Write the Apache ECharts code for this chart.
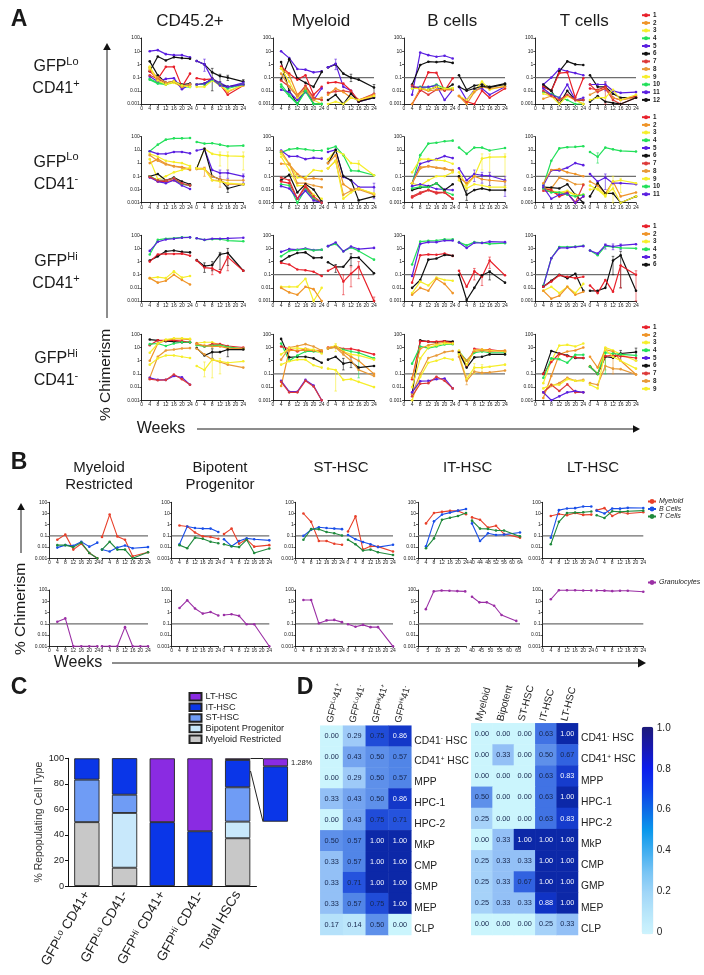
<!DOCTYPE html>
<html><head><meta charset="utf-8">
<style>html,body{margin:0;padding:0;background:#fff}#c{width:704px;height:975px}</style>
<script src="https://cdn.jsdelivr.net/npm/echarts@6/dist/echarts.min.js"></script>
</head><body><div id="c"></div>
<script>
// ---------- Panel A data: [mouse, value at each week] ----------
const priWeeks=[4,8,12,16,20,24];
const secWeeks=[0,4,8,12,16,24];
const loPosCd45Pri=[[5,10,12,6,5,5,3.5],[6,.3,4,2,3.5,3,2.7],[12,1.7,.15,.04,.05,.03,.035],[1,.3,.08,.65,.65,.02,.2],[2,.6,.05,.03,.05,.02,.03],[3,.7,.06,.03,.04,.02,.025],[4,.08,.04,.035,.05,.02,.02],[11,.12,.05,.08,.09,.013,.03],[10,.07,.035,.03,.05,.025,.02],[7,.15,.08,.04,.05,.02,.03],[8,.4,.1,.04,.05,.02,.03],[9,.5,.06,.03,.05,.025,.02]];
const loPosCd45Sec=[[6,1.8,1,.25,.13,.1,.05],[5,1.8,1,.08,.04,.02,.04],[1,.09,.07,.08,.03,.005,.025],[12,.03,.035,.08,.03,.02,.03],[2,.03,.03,.07,.03,.008,.03],[3,.02,.02,.06,.025,.01,.025],[4,.03,.03,.07,.03,.015,.03],[11,.03,.035,.08,.025,.02,.03]];
const loPosMyePri=[[5,10,3,.45,.4,.25,.3],[6,.07,2.5,.09,.04,.02,.27],[12,1.5,.01,.001,.015,.001,.001],[1,.7,.2,.07,.15,.005,.02],[2,.5,.15,.005,.02,.003,.002],[3,.5,.05,.003,.01,.002,.001],[4,.03,.005,.001,.01,.001,.001],[11,.012,.008,.002,.008,.002,.015],[10,.02,.004,.001,.009,.001,.001],[7,.06,.02,.004,.025,.003,.002],[8,.2,.02,.004,.015,.002,.003]];
const loPosMyeSec=[[6,.6,1,.2,.1,.07,.018],[5,.6,1.1,.02,.01,.0015,.003],[1,.04,.045,.035,.01,.0015,.004],[7,.007,.009,.01,.008,.002,.006],[2,.005,.015,.008,.003,.002,.005],[12,.002,.005,.001,.006,.0015,.003],[3,.001,.0015,.001,.003,.002,.004]];
const loPosBPri=[[5,.005,8,5,3.8,4.5,2.8],[6,.03,.9,1.6,1.5,1.7,1.3],[1,.001,.01,.25,.23,.01,.09],[12,.02,.015,.012,.02,.012,.03],[4,.015,.02,.018,.03,.015,.015],[11,.02,.018,.02,.025,.002,.012],[7,.025,.012,.005,.012,.012,.012],[2,.001,.015,.01,.012,.013,.012],[3,.015,.015,.012,.02,.015,.016]];
const loPosBSec=[[6,.15,.012,.025,.03,.02,.035],[5,.02,.002,.012,.015,.005,.02],[1,.004,.0015,.001,.01,.003,.015],[3,.004,.002,.01,.05,.012,.025],[2,.004,.001,.008,.02,.015,.02],[12,.02,.01,.015,.022,.018,.03]];
const loPosTPri=[[5,.03,.1,.45,.3,.22,.15],[6,.02,.01,.3,1.7,1,.9],[1,.02,.01,.22,.25,.003,.09],[12,.03,.01,.001,.01,.002,.002],[4,.008,.006,.003,.002,.001,.001],[2,.0025,.004,.002,.004,.002,.001],[3,.006,.004,.001,.004,.002,.001],[11,.015,.005,.003,.03,.002,.003],[7,.01,.004,.002,.005,.002,.002]];
const loPosTSec=[[6,.15,.02,.02,.006,.003,.003],[5,.03,.03,.03,.01,.007,.008],[1,.015,.012,.02,.003,.002,.004],[8,.005,.01,.015,.003,.002,.003],[7,.03,.008,.015,.002,.001,.003],[12,.0015,.004,.0015,.0012,.001,.003],[3,.002,.003,.003,.012,.002,.005]];

const loNegCd45Pri=[[4,8,25,60,75,75,80],[5,8,5,5,7,7,5.5],[3,5,3,1.5,1.2,1,.6],[2,1,2,.9,.6,.5,.35],[8,4,1.5,.8,.55,.45,.3],[9,2,.06,.1,.2,.3,.45],[6,.1,.15,.05,.08,.04,.025],[1,.1,.04,.04,.05,.025,.02],[10,.1,.05,.05,.07,.025,.02],[11,.08,.04,.03,.05,.02,.011],[7,.09,.05,.05,.07,.03,.02]];
const loNegCd45Sec=[[4,40,30,32,25,19,21],[5,9,12,.3,.18,.18,.1],[3,.4,12,5,4,3.5,3.2],[6,.4,12,.1,.06,.012,.025],[2,.4,.4,.05,.05,.025,.025],[8,.35,.35,.1,.06,.05,.05],[9,.4,.35,.05,.04,.03,.025]];
const loNegMyePri=[[4,6.5,11,13,11,9,9],[5,9,3.2,3.3,2,2.5,2.2],[3,5,.8,.08,.08,.3,.25],[2,.9,.8,.15,.06,.07,.06],[8,8,.9,.03,.03,.02,.015],[9,3,.3,.02,.02,.004,.002],[6,.05,.13,.006,.025,.01,.0012],[1,.04,.03,.002,.015,.002,.001],[10,.025,.02,.001,.01,.002,.001],[11,.018,.012,.002,.008,.0015,.001],[7,.08,.05,.002,.02,.003,.001]];
const loNegMyeSec=[[4,12,18,4,.27,.25,.12],[3,2,9,4.5,1,.9,.12],[5,7,10,.09,.05,.015,.015],[6,1,10,.1,.05,.0015,.003],[2,1,4,.025,.01,.012,.0045],[8,.4,1.5,.004,.008,.01,.004],[9,.4,1.5,.002,.006,.012,.005]];
const loNegBPri=[[4,.03,4,30,35,45,50],[5,.03,.9,1.4,2,3.4,2.4],[3,.2,2,2,1.7,1.5,.9],[2,.03,.4,.6,.45,.4,.25],[8,.03,.5,.55,.45,.35,.3],[9,.03,.02,.05,.1,.1,.2],[11,.018,.025,.018,.011,.01,.009],[6,.009,.014,.016,.03,.009,.025],[10,.012,.016,.015,.03,.007,.004],[1,.0025,.005,.009,.006,.006,.002],[7,.003,.006,.009,.005,.006,.002]];
const loNegBSec=[[4,15,5,15,15,9,14],[5,.4,.05,.15,.12,.11,.05],[3,.2,.02,.1,2.2,2.8,3],[2,.08,.03,.1,.06,.05,.04],[9,.05,.012,.025,.02,.015,.015],[6,.1,.004,.009,.012,.009,.009]];
const loNegTPri=[[4,.02,1.5,13,16,17,19],[5,.02,.28,.28,.45,1,.7],[2,.03,.3,.35,.2,.15,.1],[8,.015,.012,.08,.05,.025,.025],[6,.015,.014,.012,.025,.004,.001],[3,.015,.008,.006,.008,.004,.004],[9,.012,.007,.005,.007,.0035,.004],[1,.012,.009,.003,.005,.001,.003],[7,.008,.007,.004,.006,.001,.022],[10,.012,.006,.006,.004,.003,.004],[11,.015,.002,.004,.005,.001,.003]];
const loNegTSec=[[4,7,3,15,11,8.5,7.5],[5,.15,.04,.08,.03,.03,.025],[2,.04,.02,.005,.04,.003,.006],[3,.02,.01,.003,.04,.05,.03],[6,.003,.03,.005,.005,.001,.003],[9,.01,.012,.004,.012,.001,.003]];

const hiPosCd45Pri=[[4,3.5,45,55,60,70,70],[5,6.5,32,48,55,65,70],[6,1.2,2.5,6,7,5.5,5],[1,1,3.5,3.8,3.8,4,2.8],[3,.055,.065,.055,.18,.06,.08],[2,.055,.025,.035,.1,.04,.018]];
const hiPosCd45Sec=[[4,60,45,50,50,40,35],[5,60,45,55,55,58,65],[6,1.3,.45,.55,3.5,4.5,.2],[1,1.2,.35,.3,.15,2.2,.2]];
const hiPosMyePri=[[5,5.5,9,8,10,7.5,8],[4,2.5,6.5,7.5,9,7,8],[6,1,2.5,4.5,5,1.9,2],[1,.8,.6,.25,.22,.17,.08],[3,.012,.012,.012,.05,.001,.01],[2,.01,.0045,.003,.012,.008,.001]];
const hiPosMyeSec=[[4,15,22,6,12,6.5,1.4],[5,15,28,6,14,9,11],[6,.9,.4,.4,2,2,.13],[1,.2,.4,.03,.12,.4,.001]];
const hiPosBPri=[[4,.6,33,38,40,50,50],[5,.08,22,30,30,40,40],[1,.025,3,3.5,3.3,4,2.7],[6,.01,.04,1.4,1.7,3.2,2.8],[3,.004,.03,.015,.06,.04,.035],[2,.003,.01,.006,.05,.02,.004]];
const hiPosBSec=[[4,30,17,30,27,22,25],[5,28,11,27,26,33,30],[1,.2,.012,.18,.07,1.2,.09],[6,.1,.0012,.01,.09,.17,.025]];
const hiPosTPri=[[4,.015,1.8,13,13,14,16],[5,.013,1.8,11,11,13,15],[6,.012,.035,.1,.055,.12,.006],[1,.012,.03,.09,.07,.055,.07],[3,.006,.012,.004,.012,.004,.02],[2,.006,.0015,.0025,.012,.003,.005]];
const hiPosTSec=[[4,7,3,15,13,11,10],[5,7,4,18,14,17,21],[6,.006,.006,.01,1.2,3,.006],[1,.015,.004,.04,.005,.5,.1]];

const hiNegCd45Pri=[[6,40,35,30,28,25,25],[1,15,35,35,35,30,25],[4,18,20,13,20,25,25],[2,1,20,35,45,45,40],[3,4,20,40,50,50,45],[8,.05,2,6,7,8.5,9],[9,.5,1.5,2.5,2.5,2,1.6],[5,.05,.035,.035,.07,.055,.015],[7,.04,.033,.035,.09,.04,.015]];
const hiNegCd45Sec=[[3,22,25,25,15,10,8],[1,20,12,18,18,13,10],[4,15,12,14,15,11,8],[2,18,14,12,12,9,8],[6,9,2.5,4.5,4.5,7,7],[8,8,3,1.2,.8,.5,.3],[9,.4,.2,1.2,.9,.7,.9]];
const hiNegMyePri=[[6,45,1.8,2,2,1.5,.7],[4,20,1,2.5,5,5,4.5],[1,12,8,5,8,6,5],[8,1.2,10,13,18,12,6],[2,.012,6,6,6,6,6],[3,3,9,9,8,7,3.5],[9,.5,.9,1.2,1.2,.45,.3],[5,.03,.0045,.0045,.035,.013,.001],[7,.025,.004,.004,.03,.011,.001]];
const hiNegMyeSec=[[1,10,12,8,8,6,3],[4,8,11,7,5,4,1.5],[3,9,14,5,3,2.5,1.2],[2,9,11,4.5,2,1,.1],[6,1.2,2,.6,.8,.3,.4],[8,8,10,3,1,.2,.07],[9,.25,.2,.035,.04,.025,.01]];
const hiNegBPri=[[6,.003,35,28,25,30,28],[1,.04,30,28,28,30,22],[4,.6,12,9,12,17,18],[2,.05,8,15,20,25,20],[8,.003,.1,1.6,2.5,4.5,5.5],[3,.01,1.5,10,15,20,20],[9,.001,.06,.7,1,1.6,1.2],[5,.004,.028,.03,.04,.045,.008],[7,.002,.018,.02,.06,.03,.008]];
const hiNegBSec=[[4,5,1,4,5,4,4],[1,5,.4,8,7,7,5],[3,6,.5,6,7,6,5],[2,4,1,5,6,5,6],[6,4,.3,1.8,2,3,3],[9,3,.04,.3,.3,.35,.5],[8,2,.03,.15,.12,.13,.18]];
const hiNegTPri=[[3,.02,1,14,16,12,20],[2,.0015,.07,3,5,6,10],[6,.1,5.5,3.5,2.5,1.6,1.6],[1,.1,.8,3.5,2.2,1.8,1.6],[4,.05,1.5,1.3,.7,2.8,2.8],[8,.004,.012,.02,.05,.03,.035],[9,.008,.015,.015,.04,.03,.03],[7,.004,.015,.005,.016,.004,.004],[5,.004,.001,.002,.004,.005,.004]];
const hiNegTSec=[[3,.4,.1,10,6,3,1],[6,.35,.1,2,1.7,3.5,4.5],[2,2,.3,7,5,1,.09],[1,.35,.1,2.2,2.5,2.2,1.6],[4,.35,.1,4,3.5,3,2.5],[8,.02,.015,.4,.25,.23,.09],[9,.015,.008,7,2,1,.25]];

// error bars: [row, col, sub, mouse, week, low, high]
const errorBars=[[0,0,1,5,4,.3,2.5],[0,0,1,6,8,.08,.5],[0,0,1,6,12,.05,.18],[0,0,1,6,16,.06,.15],[0,0,1,6,24,.03,.07],[0,0,1,12,8,.01,.09],
[0,1,1,5,4,.4,2.5],[0,1,1,6,12,.05,.18],[0,1,1,6,24,.006,.03],[0,3,1,7,8,.001,.04],[0,3,1,5,8,.01,.05],
[1,0,1,3,12,.6,7],[1,0,1,3,16,.3,7],[1,0,1,3,24,.3,7],[1,0,1,2,4,.1,.5],[1,0,1,2,12,.015,.1],[1,0,1,5,12,.07,.3],[1,0,1,5,16,.07,.3],[1,0,1,5,24,.03,.15],[1,0,1,6,16,.006,.02],
[1,1,1,3,16,.3,1.5],[1,1,1,5,24,.002,.03],[1,2,1,3,12,.3,5],[1,2,1,3,16,.02,5],[1,2,1,3,24,.02,5],[1,2,1,5,8,.04,.3],[1,2,1,5,12,.03,.2],[1,2,1,5,16,.02,.2],[1,2,1,5,24,.003,.1],[1,2,1,6,4,.0015,.009],
[1,3,1,5,8,.01,.15],[1,3,1,3,12,.001,.1],[1,3,1,3,16,.006,.07],[1,3,1,4,4,1,6],
[2,0,1,6,4,.15,.8],[2,0,1,6,8,.2,1],[2,0,1,6,12,.25,5],[2,0,1,6,16,.5,10],[2,0,1,1,8,.1,.6],[2,0,1,1,16,.2,5],
[2,1,1,1,8,.003,.1],[2,1,1,1,12,.012,.4],[2,1,1,1,16,.05,1],[2,1,1,1,24,.001,.002],[2,1,1,6,4,.15,.6],[2,1,1,6,12,.5,4],
[2,2,1,1,8,.04,.3],[2,2,1,1,12,.015,.1],[2,2,1,1,16,.3,2.2],[2,2,1,6,16,.04,.2],
[2,3,1,6,12,.1,2.5],[2,3,1,6,16,.01,6],[2,3,1,1,16,.01,.5],[2,3,1,1,24,.001,.2],[2,3,1,5,8,9,22],[2,3,1,5,12,8,22],[2,3,1,5,16,8,22],
[3,0,1,9,4,.06,.8],[3,0,1,9,8,.05,1.5],[3,0,1,9,12,.1,1.5],[3,0,1,6,8,1.5,8],[3,0,1,6,16,2,12],
[3,1,1,9,4,.005,.2],[3,1,1,6,8,.2,1.5],[3,1,1,6,12,.3,2],[3,1,1,4,16,.05,4],[3,1,1,3,4,5,20],
[3,2,1,9,8,.1,.6],[3,2,1,9,12,.1,.5],[3,2,1,8,4,.015,.08],
[3,3,1,2,8,.2,10],[3,3,1,2,12,.1,6],[3,3,1,6,16,1,6],[3,3,1,6,24,1,9],[3,3,1,4,8,.1,5]];

// ---------- Panel B data ----------
const restrictedPri=[['Myeloid',.045,.13,.006,.02,.003,.001],['B Cells',.009,.015,.013,.03,.011,.025],['T Cells',.015,.015,.01,.025,.003,.001]];
const restrictedSec=[['Myeloid',.08,8,.09,.045,.0015,.0035],['B Cells',.006,.004,.009,.014,.008,.01],['T Cells',.006,.03,.006,.006,.001,.0035]];
const bipotentPri=[['Myeloid',.85,.7,.2,.09,.08,.055],['B Cells',.018,.7,.5,.45,.45,.22],['T Cells',.015,.008,.07,.055,.03,.022]];
const bipotentSec=[['Myeloid',.15,.45,.02,.05,.011,.015],['B Cells',.05,.012,.035,.06,.05,.04],['T Cells',.018,.012,.01,.045,.003,.0075]];
const stPri=[['Myeloid',10,1.8,.035,.035,.02,.016],['B Cells',.1,.35,.6,.5,.45,.4],['T Cells',.045,.4,.4,.22,.17,.11]];
const stSec=[['Myeloid',.25,5.5,.006,.012,.011,.004],['B Cells',.12,.05,.028,.018,.01,.016],['T Cells',.045,.018,.005,.006,.0035,.002]];
const itPri=[['Myeloid',1.3,11,14,17,17,8.5],['B Cells',.012,2,8,12,18,25],['T Cells',.008,.06,2.8,4.2,6,11]];
const itSec=[['Myeloid',4.5,2.8,.55,.8,.15,.07],['B Cells',1.3,.035,.17,.12,.13,.2],['T Cells',2.3,.45,.42,.3,.3,.09]];
const ltPri=[['Myeloid',6,9,7,11,7.5,8],['B Cells',.07,20,28,30,42,42],['T Cells',.018,1.8,11,12,13,15]];
const ltSec=[['Myeloid',20,30,6,13,10,13],['B Cells',18,10,28,27,32,31],['T Cells',7,4,16,14,16,18]];
const itSecWeeks=[40,44,48,52,56,64];
const restrictedSecWeeks=[0,4,8,12,16,20,24];
const granRestrictedPri=[.15,.3,.001,.001,.001,.001];
const granRestrictedSec=[.001,.001,.001,.05,.001,.001,.001];
const granBipotentPri=[2.5,12,2.3,.8,1.1,.55];
const granBipotentSec=[.6,.7,.5,.09,.09,.001];
const granStPri=[13,13,.11,.2,.22,.14];
const granStSec=[.09,.055,.08,.05,.05,.001];
const granItPri=[2,75,90,85,80,75];
const granItSec=[25,8,8,4,.6,.18];
const granLtPri=[15,95,95,95,90,90];
const granLtSec=[90,88,80,85,85,70];
const thresholdValue=0.1;

// ---------- Panel C data ----------
const cCategories=['GFPLo CD41+','GFPLo CD41-','GFPHi CD41+','GFPHi CD41-','Total HSCs'];
const cMyeloid=[50,14.3,0,0,37.4];
const cBipotent=[0,42.9,0,0,13];
const cST=[33.3,14.3,0,0,26.9];
const cIT=[16.7,28.6,50,42.9,21.4];
const cLT=[0,0,50,57.1,1.28];
const cInsetIT=[8.86];   // top slice of the Total HSCs bar, magnified
const cInsetLT=[1.28];
const cInsetMax=10.14;

// ---------- Panel D data ----------
const dRows=['CD41- HSC','CD41+ HSC','MPP','HPC-1','HPC-2','MkP','CMP','GMP','MEP','CLP'];
const dColsLeft=['GFPLo41+','GFPLo41-','GFPHi41+','GFPHi41-'];
const dColsRight=['Myeloid','Bipotent','ST-HSC','IT-HSC','LT-HSC'];
const dLeft=[[0,.29,.75,.86],[0,.43,.5,.57],[0,.29,.5,.57],[.33,.43,.5,.86],[0,.43,.75,.71],[.5,.57,1,1],[.33,.57,1,1],[.33,.71,1,1],[.33,.57,.75,1],[.17,.14,.5,0]];
const dRight=[[0,0,0,.63,1],[0,.33,0,.5,.67],[0,0,0,.63,.83],[.5,0,0,.63,1],[.25,0,0,.63,.83],[0,.33,1,1,1],[.25,.33,.33,1,1],[.25,.33,.67,1,1],[.25,.33,.33,.88,1],[0,0,0,.25,.33]];
const dCellPalette=['#cbf5fd','#c2ecfb','#b0dcfa','#9cc8f8','#7dacf2','#5e90ea','#4c80e6','#2655de','#1a42d2','#0e2fc2','#0c28a8'];
const dBarPalette=['#cdf3fd','#b8e6fa','#a0d6f8','#78c4f4','#40aef0','#0a98ec','#0c6ae6','#0c3cea','#0c1cec','#1818b0','#1c1a78'];

// ---------- Styles & layout ----------
const FONT='"Liberation Sans",Arial,sans-serif';
const RED='#e8212b',ORG='#ef9428',YEL='#f6ee2a',GRN='#22e05a',PUR='#5a1fe0',BLK='#111111';
const mouseColor={1:RED,2:ORG,3:YEL,4:GRN,5:PUR,6:BLK,7:'#dc3a3a',8:'#e89a38',9:'#f6ee2a',10:'#22e05a',11:'#5a1fe0',12:'#111111'};
const lineageColor={'Myeloid':'#e8402a','B Cells':'#1a4fe8','T Cells':'#1f8a3c','Granulocytes':'#9b2fa5'};

const grid=[],xAxis=[],yAxis=[],series=[];
function addGrid(l,r,t,b,xa,ya){
  const i=grid.length;
  grid.push({left:l,top:t,width:r-l,height:b-t,containLabel:false});
  xAxis.push(Object.assign({gridIndex:i},xa));
  yAxis.push(Object.assign({gridIndex:i},ya));
  return i;
}
const fmtLog=v=>String(+(+v).toPrecision(1));
function logAxis(show){
  return {type:'log',logBase:10,min:.001,max:100,show:show,
    axisLine:{show:true,onZero:false,lineStyle:{color:'#111',width:.9}},
    axisTick:{show:true,length:2,lineStyle:{color:'#111',width:.7}},
    minorTick:{show:false},minorSplitLine:{show:false},
    axisLabel:{fontSize:5,margin:2,color:'#222',fontFamily:FONT,formatter:fmtLog},splitLine:{show:false}};
}
function weekAxis(min,max,interval){
  return {type:'value',min:min,max:max,interval:interval,
    axisLine:{show:true,onZero:false,lineStyle:{color:'#111',width:.9}},
    axisTick:{show:true,length:2,lineStyle:{color:'#111',width:.7}},
    axisLabel:{fontSize:5,margin:2,color:'#222',fontFamily:FONT,showMinLabel:true,showMaxLabel:true,hideOverlap:false,
      formatter:v=>(v%interval===0?String(v):'')},splitLine:{show:false}};
}
function addLine(gi,name,color,weeks,vals,lw,size){
  series.push({type:'line',name:String(name),xAxisIndex:gi,yAxisIndex:gi,data:vals.map((v,i)=>[weeks[i],v]),
    symbol:'circle',symbolSize:size,showSymbol:true,clip:false,silent:true,animation:false,
    lineStyle:{color:color,width:lw},itemStyle:{color:color}});
}
function addThreshold(l,r,t,b){
  const gi=addGrid(l,r,t,b,{type:'value',min:0,max:1,show:false},{type:'log',logBase:10,min:.001,max:100,show:false});
  series.push({type:'line',name:'threshold',xAxisIndex:gi,yAxisIndex:gi,data:[[0,thresholdValue],[1,thresholdValue]],
    symbol:'none',silent:true,animation:false,z:1,lineStyle:{color:'#6e6e6e',width:1.2}});
}
function addErrors(gi,list){
  series.push({type:'custom',name:'err',xAxisIndex:gi,yAxisIndex:gi,data:list,silent:true,animation:false,clip:false,
    encode:{x:0,y:[1,2]},
    renderItem:(p,api)=>{
      const a=api.coord([api.value(0),api.value(1)]),b=api.coord([api.value(0),api.value(2)]);
      const c=mouseColor[api.value(3)],st={stroke:c,lineWidth:.7,opacity:.85},w=1.3;
      return {type:'group',children:[
        {type:'line',shape:{x1:a[0],y1:a[1],x2:b[0],y2:b[1]},style:st},
        {type:'line',shape:{x1:a[0]-w,y1:a[1],x2:a[0]+w,y2:a[1]},style:st},
        {type:'line',shape:{x1:b[0]-w,y1:b[1],x2:b[0]+w,y2:b[1]},style:st}]};
    }});
}

// Panel A
const aRows=[[38,104],[136.7,202.7],[235.3,301],[334.3,400.3]];
const aCols=[[141.7,190,196.7,243.3],[273,321.7,328,374],[404,452.7,459,505],[535.3,583.3,590,636]];
const aData=[
 [[loPosCd45Pri,loPosCd45Sec],[loPosMyePri,loPosMyeSec],[loPosBPri,loPosBSec],[loPosTPri,loPosTSec]],
 [[loNegCd45Pri,loNegCd45Sec],[loNegMyePri,loNegMyeSec],[loNegBPri,loNegBSec],[loNegTPri,loNegTSec]],
 [[hiPosCd45Pri,hiPosCd45Sec],[hiPosMyePri,hiPosMyeSec],[hiPosBPri,hiPosBSec],[hiPosTPri,hiPosTSec]],
 [[hiNegCd45Pri,hiNegCd45Sec],[hiNegMyePri,hiNegMyeSec],[hiNegBPri,hiNegBSec],[hiNegTPri,hiNegTSec]]];
aRows.forEach((ry,r)=>aCols.forEach((cx,c)=>{
  if(c>0) addThreshold(cx[0],cx[3],ry[0],ry[1]);
  const g1=addGrid(cx[0],cx[1],ry[0],ry[1],weekAxis(0,24,4),logAxis(true));
  const g2=addGrid(cx[2],cx[3],ry[0],ry[1],weekAxis(0,24,4),Object.assign(logAxis(true),{axisLine:{show:false},axisTick:{show:false},axisLabel:{show:false}}));
  aData[r][c][0].forEach(row=>addLine(g1,row[0],mouseColor[row[0]],priWeeks,row.slice(1),1.2,2.6));
  aData[r][c][1].forEach(row=>addLine(g2,row[0],mouseColor[row[0]],secWeeks,row.slice(1),1.2,2.6));
  const errs=errorBars.filter(e=>e[0]===r&&e[1]===c&&e[2]===1).map(e=>[e[4],e[5],e[6],e[3]]);
  if(errs.length) addErrors(g2,errs);
}));

// Panel B
const bRows=[[502.3,558.3],[590,646.3]];
const bCols=[[49.3,97.3,102,148],[171.7,218.3,224,269.3],[295.7,342,348,393],[418,466,472,520],[542.7,591.3,596.7,643.3]];
const bLineage=[[restrictedPri,restrictedSec],[bipotentPri,bipotentSec],[stPri,stSec],[itPri,itSec],[ltPri,ltSec]];
const bGran=[[granRestrictedPri,granRestrictedSec],[granBipotentPri,granBipotentSec],[granStPri,granStSec],[granItPri,granItSec],[granLtPri,granLtSec]];
bCols.forEach((cx,c)=>{
  const isIT=c===3;
  addThreshold(cx[0],cx[3],bRows[0][0],bRows[0][1]);
  addThreshold(cx[0],cx[3],bRows[1][0],bRows[1][1]);
  let g1=addGrid(cx[0],cx[1],bRows[0][0],bRows[0][1],weekAxis(0,24,4),logAxis(true));
  let g2=addGrid(cx[2],cx[3],bRows[0][0],bRows[0][1],isIT?weekAxis(40,64,4):weekAxis(0,24,4),Object.assign(logAxis(true),{axisLine:{show:false},axisTick:{show:false},axisLabel:{show:false}}));
  bLineage[c][0].forEach(row=>addLine(g1,row[0],lineageColor[row[0]],priWeeks,row.slice(1),1.1,2.6));
  bLineage[c][1].forEach(row=>addLine(g2,row[0],lineageColor[row[0]],isIT?itSecWeeks:secWeeks,row.slice(1),1.1,2.6));
  g1=addGrid(cx[0],cx[1],bRows[1][0],bRows[1][1],isIT?weekAxis(0,24.4,5):weekAxis(0,24,4),logAxis(true));
  g2=addGrid(cx[2],cx[3],bRows[1][0],bRows[1][1],isIT?weekAxis(40,66,5):weekAxis(0,24,4),Object.assign(logAxis(true),{axisLine:{show:false},axisTick:{show:false},axisLabel:{show:false}}));
  addLine(g1,'Granulocytes',lineageColor['Granulocytes'],priWeeks,bGran[c][0],1.1,2.6);
  addLine(g2,'Granulocytes',lineageColor['Granulocytes'],isIT?itSecWeeks:(c===0?restrictedSecWeeks:secWeeks),bGran[c][1],1.1,2.6);
});

// Panel C
const cg=addGrid(68,256.5,758.3,886,{type:'category',data:cCategories,
   axisLine:{lineStyle:{color:'#111',width:1}},axisTick:{show:false},
   axisLabel:{rotate:60,interval:0,margin:6,fontFamily:FONT,color:'#222',
     formatter:v=>v.replace(/(Lo|Hi)/,'{s|$1}').replace(/(^|\})([^{}]+)/g,(m,a,b)=>a+'{a|'+b+'}'),
     rich:{a:{fontSize:13.5,fontFamily:FONT,color:'#222'},s:{fontSize:9,fontFamily:FONT,color:'#222',verticalAlign:'top',lineHeight:13}}}},
 {type:'value',min:0,max:100,interval:20,name:'% Repopulating Cell Type',nameLocation:'middle',nameGap:16,nameRotate:90,
   nameTextStyle:{fontSize:10.5,color:'#333',fontFamily:FONT},
   axisLine:{show:true,lineStyle:{color:'#111',width:1}},axisTick:{show:true,length:3,lineStyle:{color:'#111'}},
   axisLabel:{fontSize:9.2,margin:4,color:'#222',fontFamily:FONT},splitLine:{show:false}});
const stackDefs=[['Myeloid Restricted',cMyeloid,'#c8c8c8'],['Bipotent Progenitor',cBipotent,'#c8e8fb'],['ST-HSC',cST,'#6f9cf5'],['IT-HSC',cIT,'#0a36e8'],['LT-HSC',cLT,'#8a2be2']];
stackDefs.forEach(d=>series.push({type:'bar',name:d[0],stack:'c',xAxisIndex:cg,yAxisIndex:cg,barWidth:25.3,silent:true,animation:false,
  data:d[1].map(v=>v||null),itemStyle:{color:d[2],borderColor:'#222',borderWidth:.9}}));
const ig=addGrid(263,288,758.3,821.7,{type:'category',data:['inset'],show:false},{type:'value',min:0,max:cInsetMax,show:false});
[['inset IT',cInsetIT,'#0a36e8'],['inset LT',cInsetLT,'#8a2be2']].forEach(d=>series.push({type:'bar',name:d[0],stack:'i',xAxisIndex:ig,yAxisIndex:ig,barWidth:25,silent:true,animation:false,
  data:d[1],itemStyle:{color:d[2],borderColor:'#222',borderWidth:.9}}));

// Panel D
function richSup(v){
  return v.replace(/^GFP(Lo|Hi)(41)([+-])$/,'{a|GFP}{s|$1}{a|$2}{s|$3}').replace(/^CD41([+-])(.*)$/,'{a|CD41}{s|$1}{a|$2}')
    .replace(/^([^{].*)$/,'{a|$1}');
}
const dRich=(fs)=>({a:{fontSize:fs,fontFamily:FONT,color:'#222',fill:'#222'},s:{fontSize:fs*.62,fontFamily:FONT,color:'#222',fill:'#222',verticalAlign:'top',lineHeight:fs}});
const heatIdx=[];
function addHeat(l,r,t,b,cols,vals){
  const gi=addGrid(l,r,t,b,
    {type:'category',data:cols,position:'top',axisLine:{show:false},axisTick:{show:false},axisLabel:{show:false}},
    {type:'category',data:dRows,inverse:true,position:'right',axisLine:{show:false},axisTick:{show:false},
      axisLabel:{interval:0,margin:3,padding:[9,0,0,0],formatter:v=>richSup(v),rich:dRich(10.3)}});
  const data=[];
  vals.forEach((row,y)=>row.forEach((v,x)=>data.push({value:[x,y,v],label:{color:v>=.8?'#f4f6ff':'#16264e'}})));
  heatIdx.push(series.length);
  series.push({type:'heatmap',name:'heat',xAxisIndex:gi,yAxisIndex:gi,data:data,silent:true,animation:false,
    label:{show:true,fontSize:7.3,fontFamily:FONT,formatter:p=>p.value[2].toFixed(2)},itemStyle:{borderWidth:0}});
}
addHeat(320.3,411.3,725.7,935,dColsLeft,dLeft);
addHeat(471.3,578,723.3,935,dColsRight,dRight);
const bg=addGrid(641.7,653.3,728,932,{type:'category',data:['scale'],show:false},
  {type:'value',min:0,max:1,interval:.2,position:'right',axisLine:{show:false},axisTick:{show:false},splitLine:{show:false},
   axisLabel:{fontSize:10,margin:3.5,color:'#222',fontFamily:FONT,formatter:v=>v===0?'0':v.toFixed(1)}});
const barIdx=series.length;
series.push({type:'scatter',name:'scale',xAxisIndex:bg,yAxisIndex:bg,data:[],silent:true});

// Graphic text and arrows
const g=[];
function txt(x,y,text,fs,o){
  g.push({type:'text',x:x,y:y,silent:true,rotation:(o&&o.rot)||0,
    style:{text:text,fontSize:fs,fontFamily:FONT,fontWeight:(o&&o.w)||'normal',fill:'#1a1a1a',align:(o&&o.al)||'center',verticalAlign:'middle',rich:o&&o.rich}});
}
function arrow(x1,y1,x2,y2,h,wid){
  g.push({type:'line',silent:true,shape:{x1,y1,x2,y2},style:{stroke:'#1a1a1a',lineWidth:wid||1}});
  const dx=Math.sign(x2-x1),dy=Math.sign(y2-y1);
  g.push({type:'polygon',silent:true,shape:{points:[[x2+dx*h,y2+dy*h],[x2-dy*h*.55,y2+dx*h*.55],[x2+dy*h*.55,y2-dx*h*.55]]},style:{fill:'#111'}});
}
txt(19,20,'A',23,{w:'bold'});txt(19,463,'B',23,{w:'bold'});txt(19,688,'C',23,{w:'bold'});txt(305,688,'D',23,{w:'bold'});
[['CD45.2+',190],['Myeloid',321],['B cells',452.3],['T cells',584.3]].forEach(t=>txt(t[1],21,t[0],17));
const supRich={a:{fontSize:16,fontFamily:FONT,fill:'#1a1a1a',color:'#1a1a1a',lineHeight:22},s:{fontSize:11,fontFamily:FONT,fill:'#1a1a1a',color:'#1a1a1a',verticalAlign:'top',lineHeight:16}};
[['Lo','+',78],['Lo','-',173.5],['Hi','+',273],['Hi','-',370]].forEach(r=>
  txt(56,r[2],'{a|GFP}{s|'+r[0]+'}\n{a|CD41}{s|'+r[1]+'}',16,{rich:supRich}));
arrow(107,318,107,50,7,1);
arrow(197,429,633,429,7,1);
txt(106,375,'% Chimerism',15.5,{rot:Math.PI/2});
txt(161,429,'Weeks',16);
arrow(21,553,21,510,7,1);
arrow(112,663,638,663,8,1);
txt(20.7,609,'% Chimerism',15.5,{rot:Math.PI/2});
txt(78,663,'Weeks',16);
[['Myeloid',99,468],['Restricted',99,485],['Bipotent',220,468],['Progenitor',220,485],['ST-HSC',341,468],['IT-HSC',467.7,468],['LT-HSC',593,468]].forEach(t=>txt(t[1],t[2],t[0],15));
g.push({type:'line',silent:true,shape:{x1:250.5,y1:758.5,x2:263,y2:758.5},style:{stroke:'#222',lineWidth:1}});
g.push({type:'line',silent:true,shape:{x1:250.5,y1:771,x2:263,y2:821.7},style:{stroke:'#222',lineWidth:1}});
txt(291,763,'1.28%',7.5,{al:'left'});
// heatmap column headers: rotated text anchored just above each column
const rotHead=75*Math.PI/180;
dColsLeft.forEach((c,i)=>txt(320.3+22.75*(i+.5)-2,722.5,richSup(c),9.5,{rot:rotHead,al:'left',rich:dRich(9.5)}));
dColsRight.forEach((c,i)=>txt(471.3+21.33*(i+.5)-3,721,richSup(c),10,{rot:rotHead,al:'left',rich:dRich(10)}));

// Legends
const nums=n=>Array.from({length:n},(_,i)=>String(i+1));
function numLegend(top,n){
  return {show:true,orient:'vertical',left:641,top:top,padding:0,itemGap:1.3,itemWidth:8,itemHeight:5,selectedMode:false,data:nums(n),
    textStyle:{fontSize:6.3,fontWeight:'bold',color:'#222',fontFamily:FONT,padding:[0,0,0,-2],lineHeight:6.4}};
}
const legend=[numLegend(12,12),numLegend(114,11),numLegend(223,6),numLegend(324,9),
 {orient:'vertical',left:647,top:498,padding:0,itemGap:.5,itemWidth:8,itemHeight:6,selectedMode:false,data:['Myeloid','B Cells','T Cells'],
   textStyle:{fontSize:7,fontStyle:'italic',color:'#222',fontFamily:FONT,lineHeight:6.5,padding:[0,0,0,-2]}},
 {orient:'vertical',left:647,top:579,padding:0,itemWidth:8,itemHeight:6,selectedMode:false,data:['Granulocytes'],
   textStyle:{fontSize:7,fontStyle:'italic',color:'#222',fontFamily:FONT,padding:[0,0,0,-2]}},
 {orient:'vertical',left:188.5,top:692,padding:0,itemGap:1.1,itemWidth:12,itemHeight:7.5,selectedMode:false,icon:'rect',
   data:['LT-HSC','IT-HSC','ST-HSC','Bipotent Progenitor','Myeloid Restricted'],
   textStyle:{fontSize:9.2,color:'#222',fontFamily:FONT,lineHeight:7.5,padding:[0,0,0,-1]}}];

const chart=echarts.init(document.getElementById('c'),null,{renderer:'canvas',width:704,height:975});
chart.setOption({animation:false,backgroundColor:'#fff',textStyle:{fontFamily:FONT},tooltip:{show:false},
  grid,xAxis,yAxis,series,legend,graphic:{elements:g},
  visualMap:[
   {type:'continuous',show:false,min:0,max:1,seriesIndex:heatIdx,dimension:2,inRange:{color:dCellPalette}},
   {type:'continuous',show:true,min:0,max:1,seriesIndex:[barIdx],left:641.7,top:726.7,padding:0,itemWidth:11.6,itemHeight:207.6,orient:'vertical',calculable:false,hoverLink:false,realtime:false,
    inRange:{color:dBarPalette},textStyle:{fontSize:1,color:'transparent'}}]
});
</script></body></html>
